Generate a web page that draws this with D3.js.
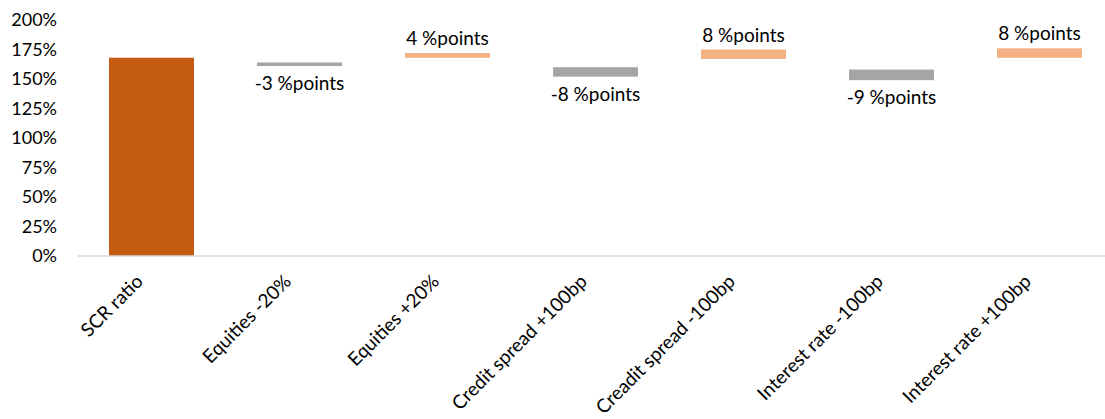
<!DOCTYPE html>
<html>
<head>
<meta charset="utf-8">
<script src="https://cdn.jsdelivr.net/npm/d3@7"></script>
<style>
  body { margin: 0; background: #fff; }
  text { font-family: Lato, "Open Sans", sans-serif; fill: #000; }
</style>
</head>
<body>
<div id="chart"></div>
<script>

// categories along the x axis
var categories = ["SCR ratio", "Equities -20%", "Equities +20%", "Credit spread +100bp",
                  "Creadit spread -100bp", "Interest rate -100bp", "Interest rate +100bp"];

// floating bars: bottom and top of each bar, in %
var barLow  = [0,   161, 168, 152, 167, 149, 168];
var barHigh = [168, 164, 172, 160, 175, 158, 176];

// kind of bar: total, decrease, increase
var barKind = ["total", "down", "up", "down", "up", "down", "up"];

// data labels
var barLabels = ["", "-3 %points", "4 %points", "-8 %points", "8 %points", "-9 %points", "8 %points"];

// y tick values
var yTicks = [0, 25, 50, 75, 100, 125, 150, 175, 200];

var svg_w = 1105, svg_h = 419;

var colors = {total: "#C55A11", down: "#A5A5A5", up: "#F4B183"};

var svg = d3.select("#chart")
  .append("svg")
    .attr("width", svg_w)
    .attr("height", svg_h);

var x = d3.scaleBand()
  .domain(categories)
  .range([77.5, 1113.5])
  .paddingInner(0.4257)
  .paddingOuter(0.2128);

var y = d3.scaleLinear()
  .domain([0, 200])
  .range([256, 20]);

// y axis, labels only
var yAxis = d3.axisLeft(y)
  .tickValues(yTicks)
  .tickSize(0)
  .tickPadding(21)
  .tickFormat(function(d) { return d + "%"; });

var gy = svg.append("g")
  .attr("transform", "translate(78,0)")
  .call(yAxis);
gy.select(".domain").remove();
gy.selectAll("text")
  .style("font-family", "Lato, sans-serif")
  .style("font-size", "18px")
  .attr("fill", "#000");

// bars
svg.selectAll(".bar")
  .data(categories)
  .enter().append("rect")
    .attr("class", "bar")
    .attr("x", function(d) { return x(d); })
    .attr("width", x.bandwidth())
    .attr("y", function(d, i) { return y(barHigh[i]); })
    .attr("height", function(d, i) { return y(barLow[i]) - y(barHigh[i]); })
    .attr("fill", function(d, i) { return colors[barKind[i]]; });

// baseline
svg.append("line")
  .attr("x1", 78).attr("x2", svg_w)
  .attr("y1", y(0)).attr("y2", y(0))
  .attr("stroke", "#D9D9D9")
  .attr("stroke-width", 1.5);

// data labels
svg.selectAll(".dlabel")
  .data(categories)
  .enter().append("text")
    .attr("class", "dlabel")
    .attr("x", function(d) { return x(d) + x.bandwidth() / 2; })
    .attr("y", function(d, i) {
      return barKind[i] == "down" ? y(barLow[i]) + 24 : y(barHigh[i]) - 8;
    })
    .style("text-anchor", "middle")
    .style("font-size", "19px")
    .text(function(d, i) { return barLabels[i]; });

// category labels, rotated
svg.selectAll(".xlabel")
  .data(categories)
  .enter().append("text")
    .attr("class", "xlabel")
    .attr("transform", function(d) {
      return "translate(" + (x(d) + x.bandwidth() / 2 - 12) + ",278) rotate(-45)";
    })
    .attr("dy", "0.35em")
    .style("text-anchor", "end")
    .style("font-size", "19px")
    .text(function(d) { return d; });

</script>
</body>
</html>
